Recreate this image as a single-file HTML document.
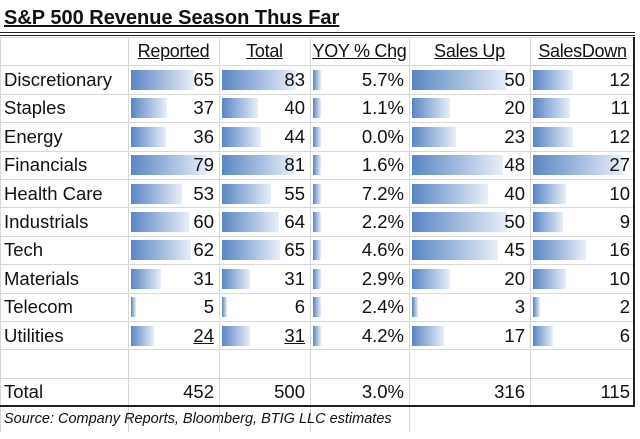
<!DOCTYPE html>
<html><head><meta charset="utf-8"><style>
body{margin:0;width:640px;height:439px;background:#fff;overflow:hidden;font-family:"Liberation Sans",sans-serif}
#t{position:absolute;left:0;top:0;width:640px;height:439px}
.c{position:absolute;font-size:18.5px;color:#111;line-height:28px;white-space:nowrap}
.bar{position:absolute;height:20px;background:linear-gradient(90deg,#5a86c4,#e8eef8)}
.h{position:absolute;background:#d8d8d8}
</style></head><body>
<div id="t"></div>
<script>
const sectors=["Discretionary","Staples","Energy","Financials","Health Care","Industrials","Tech","Materials","Telecom","Utilities"];
const reported=[65,37,36,79,53,60,62,31,5,24];
const total=[83,40,44,81,55,64,65,31,6,31];
const yoy=[5.7,1.1,0.0,1.6,7.2,2.2,4.6,2.9,2.4,4.2];
const salesUp=[50,20,23,48,40,50,45,20,3,17];
const salesDown=[12,11,12,27,10,9,16,10,2,6];
const headers=["Reported","Total","YOY % Chg","Sales Up","SalesDown"];
const totals=["452","500","3.0%","316","115"];
const t=document.getElementById('t');
const cols=[[128,219],[219,310],[310,409],[409,530],[530,635]];
const rowTop=i=>66+i*28.4;
function el(cls,name,st,txt){const d=document.createElement('div');d.className=cls;


Object.assign(d.style,st);if(txt!==undefined)d.textContent=txt;t.appendChild(d);return d;}
for(let i=0;i<=13;i++){el('h','row-line',{left:'0px',top:(37+i*28.4)+'px',width:'635px',height:'1px'});}
[128,219,310,409,530].forEach(x=>el('h','col-line',{left:x+'px',top:'37px',width:'1px',height:(x==530?369:395)+'px'}));
el('h','left-border',{left:'0px',top:'37px',width:'1px',height:'395px'});
el('h','right-border',{left:'633px',top:'37px',width:'2px',height:'370px',background:'#222'});
el('h','title-rule',{left:'0px',top:'32px',width:'635px',height:'1px',background:'#222'});
el('h','title-rule2',{left:'0px',top:'35px',width:'635px',height:'1px',background:'#222'});
el('h','total-rule',{left:'0px',top:'405px',width:'635px',height:'2px',background:'#222'});
el('c','title',{left:'4px',top:'4px',fontWeight:'bold',fontSize:'20px',textDecoration:'underline'},"S&P 500 Revenue Season Thus Far");
headers.forEach((h,j)=>el('c','header-'+h.toLowerCase().replace(/[^a-z]+/g,'-'),{left:cols[j][0]+'px',width:(cols[j][1]-cols[j][0])+'px',top:'37px',textAlign:'center',textDecoration:'underline',fontSize:'18px',letterSpacing:'-0.3px'},h));
const series=[[reported,79,76,v=>v],[total,83,74,v=>v],[yoy,7.2,0,v=>v.toFixed(1)+'%'],[salesUp,50,95,v=>v],[salesDown,27,90,v=>v]];
sectors.forEach((s,i)=>{
 const y=rowTop(i);
 el('c','sector-label',{left:'4px',top:y+'px'},s);
 series.forEach((se,j)=>{
  const v=se[0][i];
  const w=j==2?8:Math.max(3,v/se[1]*se[2]);
  el('bar','data-bar',{left:(cols[j][0]+3)+'px',top:(y+4)+'px',width:w+'px'});
  const c=el('c','cell-value',{left:cols[j][0]+'px',width:(cols[j][1]-cols[j][0]-5)+'px',top:y+'px',textAlign:'right'},se[3](v));
  if(i==9&&j<2)c.style.textDecoration='underline';
 });
});
el('c','total-label',{left:'4px',top:'378px'},"Total");
totals.forEach((v,j)=>el('c','total-value',{left:cols[j][0]+'px',width:(cols[j][1]-cols[j][0]-5)+'px',top:'378px',textAlign:'right'},v));
el('c','source-note',{left:'4px',top:'408px',fontStyle:'italic',fontSize:'14.5px',lineHeight:'22px'},"Source: Company Reports, Bloomberg, BTIG LLC estimates");
</script></body></html>
